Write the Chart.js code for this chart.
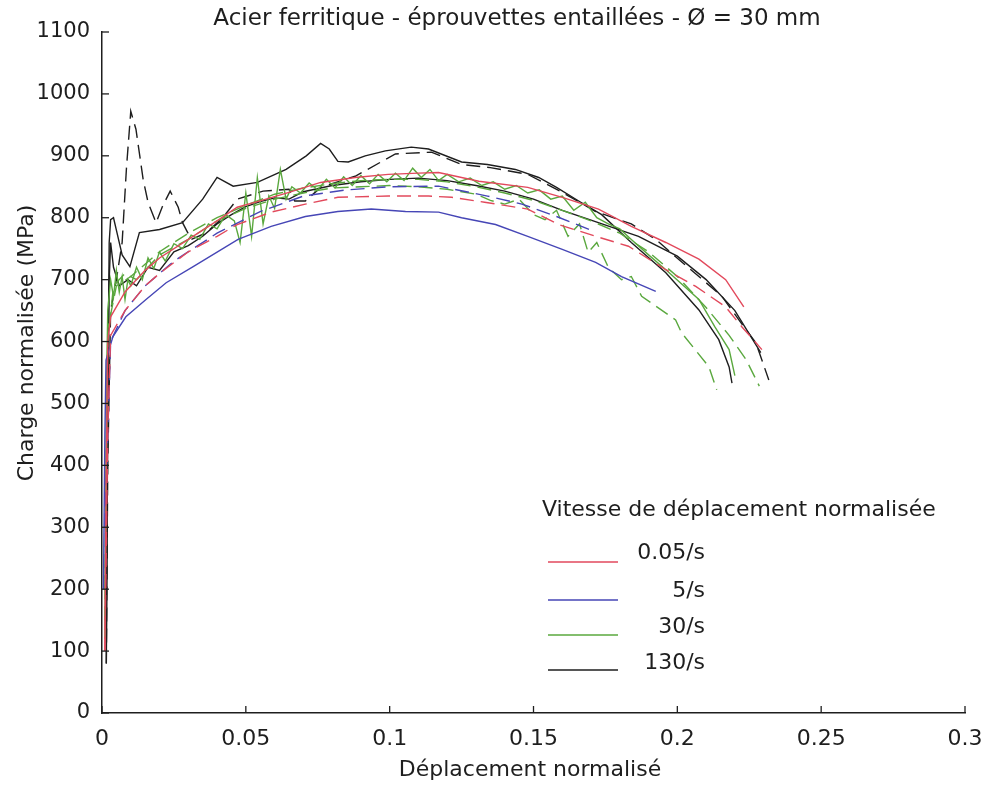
<!DOCTYPE html>
<html>
<head>
<meta charset="utf-8">
<script src="https://cdn.jsdelivr.net/npm/chart.js@4.4.0/dist/chart.umd.min.js"></script>
<style>
  body { margin: 0; background: #fff; }
</style>
</head>
<body>
<canvas id="chart" width="987" height="785"></canvas>
<script>
// tick labels
const xTickLabels = ["0", "0.05", "0.1", "0.15", "0.2", "0.25", "0.3"];
const yTickLabels = ["0", "100", "200", "300", "400", "500", "600", "700", "800", "900", "1000", "1100"];

// legend
const legendLabels = ["0.05/s", "5/s", "30/s", "130/s"];
const seriesColors = ["#e2495c", "#4646b6", "#5aa83e", "#1e1e1e"];

// 0.05/s
const redSolidX = [0.001, 0.0015, 0.002, 0.003, 0.008, 0.015, 0.02, 0.03, 0.04, 0.047, 0.054, 0.065, 0.076, 0.088, 0.0995, 0.11, 0.117, 0.131, 0.148, 0.16, 0.1726, 0.184, 0.196, 0.2075, 0.2168, 0.2231];
const redSolidY = [100, 400, 600, 640, 680, 715, 735, 765, 795, 817, 826, 841, 857, 865, 870, 872, 873, 859, 849, 833, 814, 786, 760, 733, 700, 656];
const redDashX = [0.001, 0.002, 0.003, 0.008, 0.015, 0.02, 0.03, 0.04, 0.047, 0.0588, 0.0707, 0.082, 0.0995, 0.1135, 0.1215, 0.133, 0.148, 0.1587, 0.1716, 0.183, 0.196, 0.2064, 0.2168, 0.2224, 0.2294];
const redDashY = [100, 450, 610, 650, 690, 710, 745, 770, 789, 809, 822, 833, 835, 835, 833, 825, 814, 789, 770, 754, 716, 689, 656, 624, 587];

// 5/s
const blueSolidX = [0.0005, 0.001, 0.0014, 0.0038, 0.0083, 0.0153, 0.0223, 0.0317, 0.0473, 0.0588, 0.0707, 0.082, 0.0936, 0.1055, 0.117, 0.125, 0.1368, 0.148, 0.16, 0.1716, 0.1806, 0.1925];
const blueSolidY = [200, 450, 570, 608, 640, 668, 695, 721, 765, 786, 802, 810, 814, 810, 809, 800, 789, 770, 749, 728, 705, 681];
const blueDashX = [0.001, 0.003, 0.008, 0.015, 0.025, 0.04, 0.055, 0.07, 0.085, 0.1, 0.117, 0.134, 0.146, 0.158, 0.17];
const blueDashY = [300, 600, 650, 690, 730, 775, 810, 835, 845, 850, 851, 835, 822, 802, 780];

// 30/s
const green1X = [0.001, 0.0015, 0.002, 0.003, 0.004, 0.005, 0.006, 0.007, 0.008, 0.009,
  0.010, 0.012, 0.014, 0.016, 0.018, 0.020, 0.022, 0.025, 0.028, 0.031,
  0.034, 0.037, 0.040, 0.043, 0.046, 0.048, 0.050, 0.052, 0.054, 0.056,
  0.058, 0.060, 0.062, 0.064, 0.066, 0.069, 0.072, 0.075, 0.078, 0.081,
  0.084, 0.087, 0.090, 0.093, 0.096, 0.099, 0.102, 0.105, 0.108, 0.111,
  0.114, 0.117, 0.120, 0.124, 0.128, 0.132, 0.136, 0.140, 0.144, 0.148,
  0.152, 0.156, 0.160, 0.164, 0.168, 0.172, 0.176, 0.180, 0.184, 0.190,
  0.196, 0.2075, 0.213, 0.218, 0.220];
const green1Y = [120, 500, 650, 700, 672, 715, 680, 705, 668, 700,
  690, 720, 700, 735, 718, 745, 730, 758, 750, 772,
  765, 790, 782, 805, 795, 760, 840, 770, 865, 790,
  835, 815, 878, 830, 850, 840, 856, 845, 862, 848,
  866, 852, 868, 855, 870, 858, 872, 860, 880, 865,
  878, 860, 870, 858, 864, 852, 858, 846, 852, 840,
  845, 830, 835, 812, 825, 800, 790, 782, 765, 740,
  716, 668, 624, 587, 545];
const green2X = [0.001, 0.002, 0.004, 0.008, 0.012, 0.02, 0.03, 0.04, 0.05, 0.06, 0.07, 0.08, 0.09, 0.1, 0.11, 0.12, 0.13, 0.135, 0.14, 0.145, 0.15, 0.154, 0.158, 0.162, 0.166, 0.169, 0.172, 0.176, 0.1806, 0.184, 0.1876, 0.1994, 0.2015, 0.211, 0.2137];
const green2Y = [150, 600, 690, 710, 700, 740, 765, 795, 815, 830, 840, 848, 850, 852, 850, 846, 838, 828, 822, 830, 805, 797, 812, 770, 790, 744, 760, 720, 700, 705, 673, 635, 614, 559, 522];
const green3X = [0.001, 0.002, 0.005, 0.01, 0.02, 0.03, 0.04, 0.05, 0.06, 0.07, 0.08, 0.09, 0.1, 0.11, 0.12, 0.13, 0.14, 0.15, 0.16, 0.17, 0.18, 0.19, 0.2, 0.21, 0.218, 0.224, 0.2285];
const green3Y = [200, 620, 690, 705, 745, 775, 800, 820, 838, 848, 855, 860, 862, 862, 858, 850, 840, 828, 812, 795, 775, 745, 705, 655, 610, 570, 528];

// 130/s
const blackAX = [0.0015, 0.002, 0.0025, 0.003, 0.004, 0.005, 0.007, 0.0097, 0.013, 0.02, 0.028, 0.035, 0.04, 0.0456, 0.054, 0.064, 0.071, 0.076, 0.079, 0.082, 0.0856, 0.0915, 0.0985, 0.1075, 0.1135, 0.125, 0.134, 0.1437, 0.1518, 0.158, 0.1657, 0.1737, 0.184, 0.196, 0.2075, 0.2144, 0.218, 0.219];
const blackAY = [100, 500, 760, 797, 800, 780, 740, 721, 776, 781, 792, 830, 865, 851, 857, 878, 900, 920, 911, 891, 890, 900, 908, 914, 911, 890, 886, 878, 865, 849, 827, 805, 760, 711, 651, 603, 559, 533];
const blackBX = [0.0015, 0.002, 0.0025, 0.003, 0.004, 0.006, 0.009, 0.012, 0.016, 0.02, 0.025, 0.03, 0.035, 0.04, 0.045, 0.05, 0.055, 0.06, 0.065, 0.07, 0.08, 0.09, 0.1, 0.11, 0.12, 0.13, 0.14, 0.15, 0.16, 0.17, 0.1865, 0.2, 0.21, 0.22, 0.229];
const blackBY = [80, 500, 700, 760, 720, 690, 700, 690, 720, 715, 745, 755, 770, 790, 805, 818, 826, 832, 830, 842, 852, 858, 862, 864, 860, 852, 843, 830, 812, 796, 770, 738, 700, 650, 582];
const blackDashX = [0.0015, 0.002, 0.003, 0.005, 0.007, 0.0085, 0.01, 0.0118, 0.0143, 0.016, 0.0188, 0.021, 0.0237, 0.0265, 0.028, 0.031, 0.036, 0.042, 0.047, 0.056, 0.065, 0.067, 0.0707, 0.076, 0.088, 0.102, 0.1145, 0.125, 0.135, 0.148, 0.16, 0.1716, 0.184, 0.1925, 0.1994, 0.2075, 0.2155, 0.2214, 0.2273, 0.2318];
const blackDashY = [80, 400, 650, 700, 760, 880, 972, 943, 862, 825, 792, 818, 843, 817, 792, 765, 775, 800, 830, 843, 846, 827, 827, 849, 867, 903, 906, 886, 881, 870, 841, 810, 790, 765, 737, 705, 673, 635, 598, 538];

const toPoints = (xs, ys) => xs.map((x, i) => ({ x: x, y: ys[i] }));

function curve(xs, ys, color, dashed) {
  return {
    data: toPoints(xs, ys),
    borderColor: color,
    borderWidth: 1.4,
    borderDash: dashed ? [14, 7] : [],
    pointRadius: 0,
    fill: false,
    tension: 0
  };
}

const textColor = "#1e1e1e";
Chart.defaults.font.family = "DejaVu Sans";
Chart.defaults.color = textColor;

// title, axis titles, inner ticks and the legend box
const decorations = {
  id: "decorations",
  afterDraw(chart) {
    const { ctx, chartArea } = chart;
    const xs = chart.scales.x;
    const ys = chart.scales.y;
    ctx.save();
    ctx.strokeStyle = textColor;
    ctx.lineWidth = 1.3;
    xs.ticks.forEach(t => {
      const px = xs.getPixelForValue(t.value);
      ctx.beginPath();
      ctx.moveTo(px, chartArea.bottom);
      ctx.lineTo(px, chartArea.bottom - 7);
      ctx.stroke();
    });
    ys.ticks.forEach(t => {
      const py = ys.getPixelForValue(t.value);
      ctx.beginPath();
      ctx.moveTo(chartArea.left, py);
      ctx.lineTo(chartArea.left + 7, py);
      ctx.stroke();
    });

    ctx.fillStyle = textColor;
    ctx.textBaseline = "middle";
    ctx.font = "23px 'DejaVu Sans'";
    ctx.textAlign = "center";
    ctx.fillText("Acier ferritique - éprouvettes entaillées - Ø = 30 mm", 517, 19);

    ctx.font = "22px 'DejaVu Sans'";
    ctx.fillText("Déplacement normalisé", 530, 770);

    ctx.save();
    ctx.translate(27, 343);
    ctx.rotate(-Math.PI / 2);
    ctx.fillText("Charge normalisée (MPa)", 0, 0);
    ctx.restore();

    // legend
    ctx.textAlign = "left";
    ctx.fillText("Vitesse de déplacement normalisée", 542, 510);
    const lineY = [562, 600, 635, 670];
    const textY = [553, 591, 627, 663];
    legendLabels.forEach((lab, i) => {
      ctx.strokeStyle = seriesColors[i];
      ctx.lineWidth = 1.5;
      ctx.beginPath();
      ctx.moveTo(548, lineY[i]);
      ctx.lineTo(618, lineY[i]);
      ctx.stroke();
      ctx.textAlign = "right";
      ctx.fillText(lab, 705, textY[i]);
    });
    ctx.restore();
  }
};

new Chart(document.getElementById("chart"), {
  type: "line",
  data: {
    datasets: [
      curve(redSolidX, redSolidY, seriesColors[0], false),
      curve(redDashX, redDashY, seriesColors[0], true),
      curve(blueSolidX, blueSolidY, seriesColors[1], false),
      curve(blueDashX, blueDashY, seriesColors[1], true),
      curve(green1X, green1Y, seriesColors[2], false),
      curve(green2X, green2Y, seriesColors[2], true),
      curve(green3X, green3Y, seriesColors[2], true),
      curve(blackBX, blackBY, seriesColors[3], false),
      curve(blackAX, blackAY, seriesColors[3], false),
      curve(blackDashX, blackDashY, seriesColors[3], true)
    ]
  },
  options: {
    responsive: false,
    animation: false,
    devicePixelRatio: 1,
    layout: { padding: { top: 32, right: 22, left: 0, bottom: 0 } },
    plugins: {
      legend: { display: false },
      tooltip: { enabled: false }
    },
    scales: {
      x: {
        type: "linear",
        min: 0,
        max: 0.3,
        afterFit: s => { s.height = 72; s.paddingRight = 0; s.paddingLeft = 0; },
        grid: { display: false, drawTicks: false },
        border: { display: true, color: textColor, width: 1.5 },
        ticks: {
          stepSize: 0.05,
          padding: 13,
          font: { size: 22 },
          maxRotation: 0,
          callback: (v, i) => xTickLabels[i]
        }
      },
      y: {
        min: 0,
        max: 1100,
        afterFit: s => { s.width = 102; s.paddingTop = 0; s.paddingBottom = 0; },
        grid: { display: false, drawTicks: false },
        border: { display: true, color: textColor, width: 1.5 },
        ticks: {
          stepSize: 100,
          padding: 12,
          font: { size: 21 },
          callback: (v, i) => yTickLabels[i]
        }
      }
    }
  },
  plugins: [decorations]
});
</script>
</body>
</html>
